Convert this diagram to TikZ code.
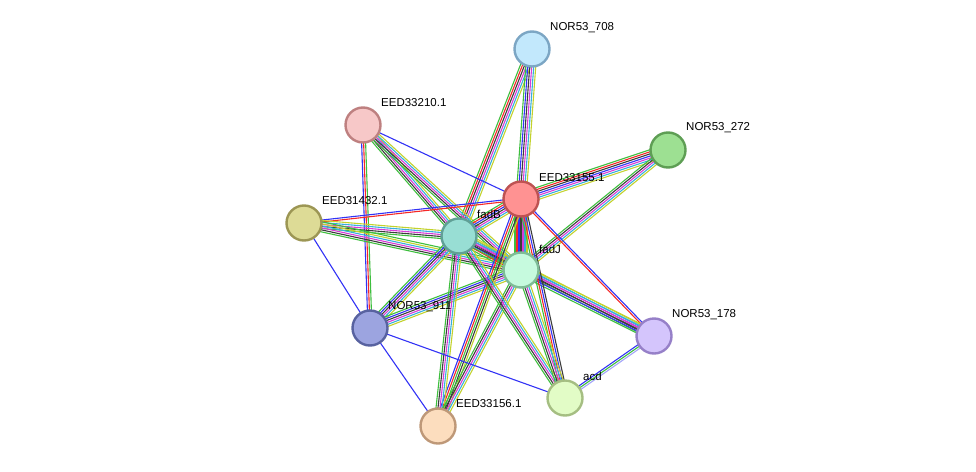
\documentclass[tikz,border=0pt]{standalone}
\usepackage{fontspec}
\setmainfont{Liberation Sans}
\usetikzlibrary{calc,positioning,backgrounds}

% evidence colours
\definecolor{EvGreen}{RGB}{62,190,62}
\definecolor{EvRed}{RGB}{245,40,40}
\definecolor{EvBlue}{RGB}{50,50,245}
\definecolor{EvDark}{RGB}{60,60,60}
\definecolor{EvMagenta}{RGB}{215,60,215}
\definecolor{EvCyan}{RGB}{55,175,220}
\definecolor{EvLime}{RGB}{195,210,45}
\definecolor{EvHomol}{RGB}{165,165,250}

% protein colours
\definecolor{ProtA}{RGB}{194,232,252}\definecolor{ProtAb}{RGB}{124,166,196}
\definecolor{ProtB}{RGB}{247,200,200}\definecolor{ProtBb}{RGB}{190,128,128}
\definecolor{ProtC}{RGB}{157,224,146}\definecolor{ProtCb}{RGB}{94,158,84}
\definecolor{ProtD}{RGB}{255,146,146}\definecolor{ProtDb}{RGB}{190,82,82}
\definecolor{ProtE}{RGB}{221,219,150}\definecolor{ProtEb}{RGB}{156,150,84}
\definecolor{ProtF}{RGB}{152,222,212}\definecolor{ProtFb}{RGB}{96,160,150}
\definecolor{ProtJ}{RGB}{198,250,222}\definecolor{ProtJb}{RGB}{126,188,150}
\definecolor{ProtN}{RGB}{156,164,224}\definecolor{ProtNb}{RGB}{88,98,160}
\definecolor{ProtM}{RGB}{212,197,252}\definecolor{ProtMb}{RGB}{150,128,200}
\definecolor{ProtQ}{RGB}{226,252,198}\definecolor{ProtQb}{RGB}{165,190,130}
\definecolor{ProtP}{RGB}{252,221,190}\definecolor{ProtPb}{RGB}{190,152,120}

\tikzset{
  prot/.style={circle, draw=#1b, fill=#1, line width=2.4pt, minimum size=35pt, inner sep=0pt},
  lbl/.style={anchor=west, font=\fontsize{11.5}{12}\selectfont, inner sep=1pt},
  evline/.style={line width=1.1pt}
}

% a bundle of parallel evidence lines between two proteins
\newcommand{\evbundle}[3]{%
  \def\nn{0}\foreach \c in {#3}{\xdef\nn{\the\numexpr\nn+1}}%
  \foreach \c [count=\i] in {#3}{%
    \pgfmathsetmacro\off{(\i-(\nn+1)/2)*2.0}%
    \draw[evline,\c] ($(#1.center)!\off pt!90:(#2.center)$) -- ($(#2.center)!\off pt!-90:(#1.center)$);
  }}

\begin{document}
\begin{tikzpicture}[x=1pt,y=-1pt]
  \useasboundingbox (0,0) rectangle (976,471);

  % proteins
  \node[prot=ProtA] (nor708) at (532,49) {};
  \node[prot=ProtB] (eed210) at (363,125) {};
  \node[prot=ProtC] (nor272) at (668,150) {};
  \node[prot=ProtD] (eed155) at (521,199) {};
  \node[prot=ProtE] (eed432) at (304,223) {};
  \node[prot=ProtF] (fadB) at (459,236) {};
  \node[prot=ProtJ] (fadJ) at (521,270) {};
  \node[prot=ProtN] (nor911) at (370,328) {};
  \node[prot=ProtM] (nor178) at (654,336) {};
  \node[prot=ProtQ] (acd) at (565,398) {};
  \node[prot=ProtP] (eed156) at (438,426) {};

  % edges
  \begin{scope}[on background layer]
  \evbundle{nor708}{fadB}{EvGreen,EvRed,EvDark,EvMagenta,EvCyan,EvLime}
  \evbundle{nor708}{eed155}{EvGreen,EvBlue,EvDark,EvMagenta,EvCyan,EvLime}
  \evbundle{eed210}{eed155}{EvBlue}
  \evbundle{eed210}{fadB}{EvGreen,EvDark,EvMagenta,EvCyan,EvLime}
  \evbundle{eed210}{fadJ}{EvGreen,EvDark,EvMagenta,EvCyan,EvLime}
  \evbundle{eed210}{nor911}{EvBlue,EvRed,EvGreen}
  \evbundle{nor272}{eed155}{EvGreen,EvRed,EvDark,EvBlue,EvMagenta,EvCyan,EvLime}
  \evbundle{nor272}{fadJ}{EvGreen,EvDark,EvMagenta,EvCyan,EvLime}
  \evbundle{eed432}{eed155}{EvRed,EvBlue}
  \evbundle{eed432}{fadB}{EvGreen,EvDark,EvMagenta,EvCyan,EvLime}
  \evbundle{eed432}{fadJ}{EvGreen,EvDark,EvMagenta,EvCyan,EvLime,EvGreen}
  \evbundle{eed432}{nor911}{EvBlue}
  \evbundle{eed155}{fadB}{EvGreen,EvRed,EvBlue,EvDark,EvMagenta,EvCyan,EvLime}
  \evbundle{eed155}{fadJ}{EvGreen,EvRed,EvBlue,EvDark,EvMagenta,EvCyan,EvLime}
  \evbundle{fadB}{fadJ}{EvGreen,EvRed,EvBlue,EvDark,EvMagenta,EvCyan,EvLime}
  \evbundle{fadB}{nor911}{EvGreen,EvBlue,EvDark,EvMagenta,EvCyan,EvLime}
  \evbundle{fadJ}{nor911}{EvGreen,EvBlue,EvDark,EvMagenta,EvCyan,EvLime}
  \evbundle{eed155}{nor178}{EvRed,EvBlue}
  \evbundle{fadB}{nor178}{EvGreen,EvDark,EvMagenta,EvCyan,EvLime}
  \evbundle{fadJ}{nor178}{EvGreen,EvBlue,EvDark,EvMagenta,EvCyan,EvLime}
  \evbundle{eed155}{eed156}{EvBlue,EvRed,EvGreen,EvDark,EvLime}
  \evbundle{fadB}{eed156}{EvGreen,EvDark,EvMagenta,EvCyan,EvLime}
  \evbundle{fadJ}{eed156}{EvGreen,EvDark,EvMagenta,EvCyan,EvLime}
  \evbundle{eed155}{acd}{EvGreen,EvRed,EvBlue,EvDark}
  \evbundle{fadB}{acd}{EvGreen,EvDark,EvMagenta,EvCyan,EvLime}
  \evbundle{fadJ}{acd}{EvGreen,EvDark,EvMagenta,EvCyan,EvLime}
  \evbundle{nor911}{acd}{EvBlue}
  \evbundle{nor911}{eed156}{EvBlue}
  \evbundle{nor178}{acd}{EvBlue,EvGreen,EvHomol}
  \end{scope}

  % labels
  \node[lbl] (nor708lab) at ($(nor708)+(17,-21)$) {NOR53\_708};
  \node[lbl] (eed210lab) at ($(eed210)+(17,-22)$) {EED33210.1};
  \node[lbl] (nor272lab) at ($(nor272)+(17,-22)$) {NOR53\_272};
  \node[lbl] (eed155lab) at ($(eed155)+(17,-21)$) {EED33155.1};
  \node[lbl] (eed432lab) at ($(eed432)+(17,-22)$) {EED31432.1};
  \node[lbl] (fadBlab) at ($(fadB)+(17,-22)$) {fadB};
  \node[lbl] (fadJlab) at ($(fadJ)+(17,-21)$) {fadJ};
  \node[lbl] (nor911lab) at ($(nor911)+(17,-21)$) {NOR53\_911};
  \node[lbl] (nor178lab) at ($(nor178)+(17,-21)$) {NOR53\_178};
  \node[lbl] (acdlab) at ($(acd)+(17,-22)$) {acd};
  \node[lbl] (eed156lab) at ($(eed156)+(17,-22)$) {EED33156.1};
\end{tikzpicture}
\end{document}
